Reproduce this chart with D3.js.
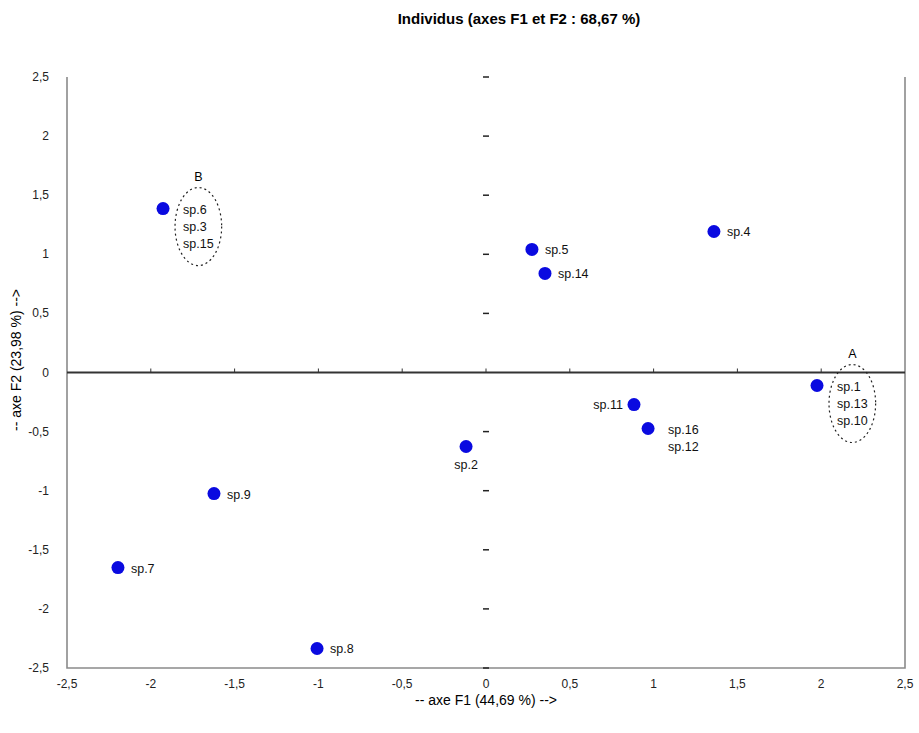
<!DOCTYPE html>
<html><head><meta charset="utf-8">
<script src="https://cdn.jsdelivr.net/npm/d3@7"></script>
<style>body{margin:0;background:#fff;} text{font-family:"Liberation Sans",Arial,sans-serif;}</style>
</head><body><svg id="c" width="919" height="733"></svg>
<script>
// ---- data ----
const pointLabels = [["sp.6","sp.3","sp.15"],["sp.4"],["sp.5"],["sp.14"],["sp.1","sp.13","sp.10"],["sp.11"],["sp.16","sp.12"],["sp.2"],["sp.9"],["sp.7"],["sp.8"]];
const f1 = [-1.927, 1.360, 0.274, 0.352, 1.975, 0.883, 0.967, -0.119, -1.623, -2.196, -1.008];
const f2 = [1.387, 1.193, 1.041, 0.838, -0.110, -0.271, -0.474, -0.626, -1.024, -1.650, -2.335];
const labelSide = ["right","right","right","right","right","left","right","below","right","right","right"];
const groupNames = ["B","","","","A","","","","","",""];
const tickValues = [-2.5,-2,-1.5,-1,-0.5,0,0.5,1,1.5,2,2.5];
const title = "Individus (axes F1 et F2 : 68,67 %)";
const xTitle = "-- axe F1 (44,69 %) -->";
const yTitle = "-- axe F2 (23,98 %) -->";

const svg = d3.select("#c");
const x = d3.scaleLinear().domain([-2.5,2.5]).range([67,905]);
const y = d3.scaleLinear().domain([-2.5,2.5]).range([668,77]);
const fmt = v => String(v).replace(".", ",");

svg.append("text").attr("x",519).attr("y",24).attr("text-anchor","middle")
  .attr("font-size",15).attr("font-weight","bold").text(title);

// frame (left, bottom, right)
svg.append("path").attr("d",`M${x(-2.5)},${y(2.5)}V${y(-2.5)}H${x(2.5)}V${y(2.5)}`)
  .attr("fill","none").attr("stroke","#8a8a8a").attr("stroke-width",1.6);

// tick labels
svg.selectAll(".xt").data(tickValues).join("text").attr("class","xt")
  .attr("x",d=>x(d)).attr("y",688).attr("text-anchor","middle").attr("font-size",12).attr("fill","#222").text(fmt);
svg.selectAll(".yt").data(tickValues).join("text").attr("class","yt")
  .attr("x",49).attr("y",d=>y(d)+4).attr("text-anchor","end").attr("font-size",12).attr("fill","#222").text(fmt);

// axis through origin
svg.append("line").attr("x1",x(-2.5)).attr("x2",x(2.5)).attr("y1",y(0)).attr("y2",y(0))
  .attr("stroke","#333").attr("stroke-width",2);
svg.selectAll(".xtk").data(tickValues.filter(d=>d>-2.5&&d<2.5)).join("line").attr("class","xtk")
  .attr("x1",d=>x(d)).attr("x2",d=>x(d)).attr("y1",y(0)).attr("y2",y(0)-4).attr("stroke","#333");
svg.selectAll(".ytk").data(tickValues.filter(d=>d!==0)).join("line").attr("class","ytk")
  .attr("x1",x(0)-3).attr("x2",x(0)+3).attr("y1",d=>y(d)).attr("y2",d=>y(d)).attr("stroke","#222").attr("stroke-width",1.5);

// axis titles
svg.append("text").attr("x",486).attr("y",705).attr("text-anchor","middle").attr("font-size",14).text(xTitle);
svg.append("text").attr("transform",`translate(21,360) rotate(-90)`).attr("text-anchor","middle").attr("font-size",14).text(yTitle);

// points
const idx = d3.range(f1.length);
svg.selectAll(".pt").data(idx).join("circle").attr("class","pt")
  .attr("cx",i=>x(f1[i])).attr("cy",i=>y(f2[i])).attr("r",6.5).attr("fill","#0a0ae0");

idx.forEach(i=>{
  const px = x(f1[i]), py = y(f2[i]);
  const g = svg.append("g");
  pointLabels[i].forEach((lab,k)=>{
    let tx, ty, anchor;
    if (labelSide[i]==="left"){ tx = px-11; ty = py+4; anchor="end"; }
    else if (labelSide[i]==="below"){ tx = px; ty = py+23; anchor="middle"; }
    else { tx = px + (pointLabels[i].length>1 ? 20 : 13); ty = py+5+k*17; anchor = "start"; }
    g.append("text").attr("x",tx).attr("y",ty).attr("text-anchor",anchor).attr("font-size",12.5).attr("fill","#111").text(lab);
  });
  if (groupNames[i]) {
    const b = g.node().getBBox();
    const cx = b.x + b.width/2, cy = b.y + b.height/2;
    const rx = b.width/2 + 8, ry = b.height/2 + 15;
    svg.append("ellipse").attr("cx",cx).attr("cy",cy).attr("rx",rx).attr("ry",ry)
      .attr("fill","none").attr("stroke","#222").attr("stroke-width",1.2).attr("stroke-dasharray","2,3");
    svg.append("text").attr("x",cx).attr("y",cy-ry-7).attr("text-anchor","middle").attr("font-size",12.5).text(groupNames[i]);
  }
});
</script></body></html>
